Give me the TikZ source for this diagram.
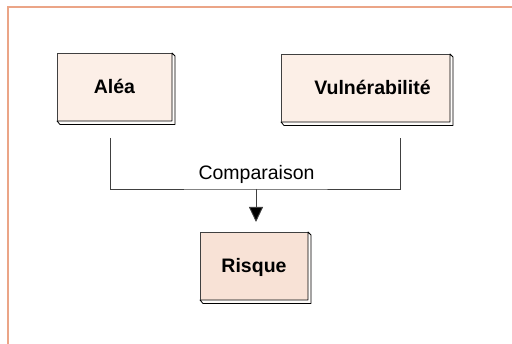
\documentclass[tikz,border=0pt]{standalone}
\usepackage{fontspec}
\setmainfont{Liberation Sans}
\usetikzlibrary{arrows.meta}
\definecolor{cadre}{HTML}{EBA587}
\definecolor{fondboite}{HTML}{FCEFE7}
\definecolor{fondrisque}{HTML}{F8E2D6}
\definecolor{trait}{HTML}{404040}
\begin{document}
\begin{tikzpicture}[
    x=1pt, y=-1pt,
    boite/.style={rectangle, draw=trait, line width=0.9pt, fill=fondboite,
        minimum height=68pt, inner sep=0pt, outer sep=0pt,
        font=\fontsize{19.5}{22}\selectfont\bfseries, text height=14pt, text depth=0pt},
    relief/.style={draw=black, line width=0.8pt, fill=white!85!fondboite, line join=round},
    lien/.style={draw=trait, line width=0.9pt},
    >={Triangle[width=14pt,length=15pt,fill=black]}
]
\useasboundingbox (0,0) rectangle (512,344);
% Cadre
\draw[cadre, line width=1.5pt] (8,344) -- (8,7) -- (512,7);

% Boites
\node[boite, minimum width=115pt] (alea) at (114.5,87) {Aléa};
\node[boite, minimum width=169pt] (vuln) at (365.5,88) {\hspace*{14pt}Vulnérabilité};
\node[boite, minimum width=108pt, fill=fondrisque] (risque) at (254,266) {Risque};

\foreach \n in {alea,vuln,risque}
  \draw[relief] (\n.north east) -- ++(3,3) -- ([shift={(3,3.5)}]\n.south east)
    -- ([shift={(3,3.5)}]\n.south west) -- (\n.south west) -- (\n.south east) -- cycle;

% Liaisons
\coordinate (sortiealea) at (110,138);
\coordinate (sortievuln) at (400,138);
\coordinate (jonction) at (256,189);
\coordinate (entreerisque) at (256,222);

\draw[lien] (sortiealea) |- (jonction) -| (sortievuln);
\draw[lien, ->] (jonction) -- (entreerisque);
\node[anchor=base, font=\fontsize{19.5}{22}\selectfont] (comparaison) at (256.5,180) {Comparaison};
\end{tikzpicture}
\end{document}
